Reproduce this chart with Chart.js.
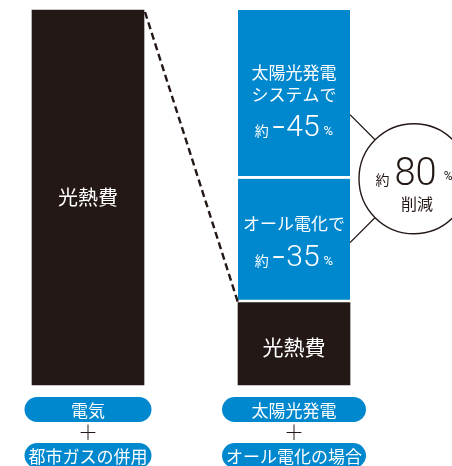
<!DOCTYPE html>
<html>
<head>
<meta charset="utf-8">
<script src="https://cdn.jsdelivr.net/npm/chart.js@4/dist/chart.umd.min.js"></script>
<style>
  html, body { margin: 0; padding: 0; background: #fff; }
  #chart { display: block; }
</style>
</head>
<body>
<canvas id="chart" width="452" height="466"></canvas>
<script>
"use strict";

// two cases, each label is two lines (pill, "+", pill)
const categories = [
  ["電気", "都市ガスの併用"],
  ["太陽光発電", "オール電化の場合"],
];
const costValues = [100, 22];        // 光熱費 (black)
const allElecValues = [null, 33];    // cut by オール電化
const solarValues = [null, 45];      // cut by 太陽光発電
const costLabel = "光熱費";
const allElecLabel = ["オール電化で"];
const solarLabel = ["太陽光発電", "システムで"];
const allElecCut = 35;
const solarCut = 45;
const totalCut = 80;
const totalCutLabel = "削減";

const BLACK = "#231815";
const BLUE = "#0088ce";
const JP = '"Noto Sans CJK JP", "Noto Sans", sans-serif';
const NUM = 'Roboto, "Noto Sans", sans-serif';

// draws pieces of text with mixed fonts, centred as one group
function drawRun(ctx, parts, cx, baseY, color) {
  ctx.save();
  ctx.fillStyle = color;
  ctx.textBaseline = "alphabetic";
  ctx.textAlign = "left";
  let total = 0;
  for (const p of parts) {
    ctx.font = p.font;
    p.w = ctx.measureText(p.t).width;
    total += p.w + (p.gap || 0);
  }
  let x = cx - total / 2;
  for (const p of parts) {
    ctx.font = p.font;
    ctx.fillText(p.t, x, baseY + (p.dy || 0));
    x += p.w + (p.gap || 0);
  }
  ctx.restore();
}

function cutRun(value) {
  return [
    { t: "約", font: "14px " + JP, gap: 3 },
    { t: "–", font: "500 21px " + NUM, gap: 1, dy: -2 },
    { t: String(value), font: "300 30px " + NUM, gap: 4 },
    { t: "%", font: "13px " + NUM, dy: -1 },
  ];
}

function pill(ctx, cx, cy, w, h, text) {
  const r = h / 2;
  ctx.fillStyle = BLUE;
  ctx.beginPath();
  ctx.moveTo(cx - w / 2 + r, cy - r);
  ctx.lineTo(cx + w / 2 - r, cy - r);
  ctx.arc(cx + w / 2 - r, cy, r, -Math.PI / 2, Math.PI / 2);
  ctx.lineTo(cx - w / 2 + r, cy + r);
  ctx.arc(cx - w / 2 + r, cy, r, Math.PI / 2, Math.PI * 1.5);
  ctx.closePath();
  ctx.fill();
  ctx.fillStyle = "#fff";
  ctx.textAlign = "center";
  ctx.textBaseline = "middle";
  ctx.fillText(text, cx, cy + 1);
}

const decorations = {
  id: "decorations",
  afterDatasetsDraw(chart) {
    const ctx = chart.ctx;
    const area = chart.chartArea;
    const cost = chart.getDatasetMeta(0).data;
    const elec = chart.getDatasetMeta(1).data[1];
    const solar = chart.getDatasetMeta(2).data[1];
    const half = cost[0].width / 2;

    ctx.save();
    // texts inside the bars
    ctx.fillStyle = "#fff";
    ctx.textAlign = "center";
    ctx.textBaseline = "middle";
    ctx.font = "20px " + JP;
    ctx.fillText(costLabel, cost[0].x, (cost[0].y + cost[0].base) / 2);
    ctx.font = "21px " + JP;
    ctx.fillText(costLabel, cost[1].x, (cost[1].y + cost[1].base) / 2 + 3);

    const sMid = (solar.y + solar.base) / 2;
    ctx.font = "17px " + JP;
    solarLabel.forEach((t, i) => ctx.fillText(t, solar.x, sMid - 22 + i * 22));
    drawRun(ctx, cutRun(solarCut), solar.x, sMid + 42, "#fff");

    const eMid = (elec.y + elec.base) / 2;
    ctx.fillStyle = "#fff";
    ctx.textAlign = "center";
    ctx.textBaseline = "middle";
    ctx.font = "17px " + JP;
    allElecLabel.forEach((t, i) => ctx.fillText(t, elec.x, eMid - 17 + i * 22));
    drawRun(ctx, cutRun(allElecCut), elec.x, eMid + 25, "#fff");

    // dashed guide from the old total to the new cost
    ctx.strokeStyle = BLACK;
    ctx.lineWidth = 2.4;
    ctx.setLineDash([7, 4]);
    ctx.beginPath();
    ctx.moveTo(cost[0].x + half + 1, cost[0].y + 2);
    ctx.lineTo(cost[1].x - half, cost[1].y);
    ctx.stroke();
    ctx.setLineDash([]);

    // circle with total cut
    const right = solar.x + half;
    const cx = right + 64;
    const cy = solar.base;
    const rad = 55;
    ctx.lineWidth = 1.4;
    ctx.beginPath();
    ctx.moveTo(right, solar.y + (solar.base - solar.y) * 0.62);
    ctx.lineTo(cx, cy);
    ctx.moveTo(right, eMid + 2);
    ctx.lineTo(cx, cy);
    ctx.stroke();
    ctx.fillStyle = "#fff";
    ctx.beginPath();
    ctx.arc(cx, cy, rad, 0, Math.PI * 2);
    ctx.fill();
    ctx.stroke();
    drawRun(ctx, [
      { t: "約", font: "14px " + JP, gap: 5 },
      { t: String(totalCut), font: "300 38px " + NUM, gap: 7 },
      { t: "%", font: "12px " + NUM, dy: -5 },
    ], cx, cy + 6, BLACK);
    ctx.fillStyle = BLACK;
    ctx.textAlign = "center";
    ctx.textBaseline = "middle";
    ctx.font = "16px " + JP;
    ctx.fillText(totalCutLabel, cx + 3, cy + 25);

    // category pills under the bars
    const xs = chart.scales.x;
    categories.forEach((lines, i) => {
      const x = xs.getPixelForValue(i);
      ctx.font = "17px " + JP;
      const w = Math.max(...lines.map((t) => ctx.measureText(t).width)) + 8;
      pill(ctx, x, area.bottom + 24.5, w, 25, lines[0]);
      ctx.fillStyle = BLACK;
      ctx.font = "300 20px " + JP;
      ctx.fillText("＋", x, area.bottom + 47);
      ctx.font = "17px " + JP;
      pill(ctx, x, area.bottom + 70.5, w, 25, lines[1]);
    });
    ctx.restore();
  },
};

const barStyle = {
  barThickness: 112,
  clip: false,
  borderColor: "#fff",
  borderSkipped: false,
};

new Chart(document.getElementById("chart"), {
  type: "bar",
  data: {
    labels: categories,
    datasets: [
      Object.assign({ label: costLabel, data: costValues, backgroundColor: BLACK, borderWidth: 0 }, barStyle),
      Object.assign({ label: "オール電化", data: allElecValues, backgroundColor: BLUE,
        borderWidth: { top: 0, left: 0, right: 0, bottom: 3 } }, barStyle),
      Object.assign({ label: "太陽光発電", data: solarValues, backgroundColor: BLUE,
        borderWidth: { top: 0, left: 0, right: 0, bottom: 3 } }, barStyle),
    ],
  },
  options: {
    responsive: false,
    animation: false,
    events: [],
    layout: { padding: { left: 88, right: 158, top: 10, bottom: 81 } },
    plugins: { legend: { display: false }, tooltip: { enabled: false } },
    scales: {
      x: { stacked: true, offset: false, display: false },
      y: { stacked: true, min: 0, max: 100, display: false },
    },
  },
  plugins: [decorations],
});
</script>
</body>
</html>
